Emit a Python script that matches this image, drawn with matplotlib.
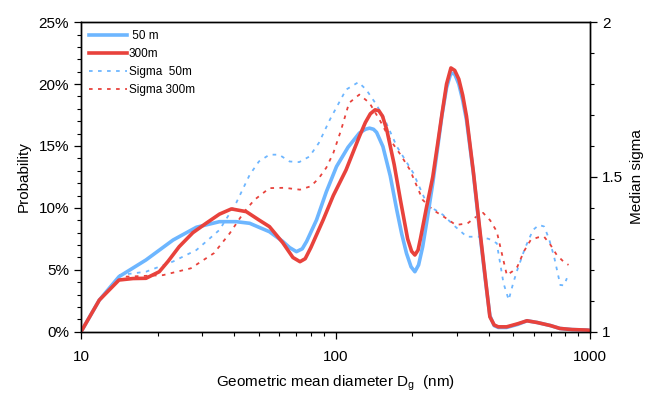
import matplotlib
matplotlib.use("Agg")
import matplotlib.pyplot as plt
from matplotlib.ticker import FixedLocator, FuncFormatter, MultipleLocator, NullFormatter
import numpy as np

plt.rcParams['font.family'] = ['Liberation Sans', 'DejaVu Sans']

# probability, 50 m
d_50 = [10, 11.8, 14.1, 18, 23, 28.4, 35, 40.7, 46, 50, 55, 62, 66, 70.2, 74, 77, 84.2, 92, 100.9,
        112, 124, 131, 136, 141, 145, 153.5, 164, 174, 182, 190, 198, 205, 212, 220, 230, 241, 252, 262,
        273, 284, 294, 305, 316, 327, 348, 369, 390, 404, 420, 436, 470, 520, 565, 620, 700, 761, 850, 970, 1000]
p_50 = [0, 2.56, 4.45, 5.8, 7.41, 8.44, 8.89, 8.89, 8.76, 8.44, 8.08, 7.3, 6.8, 6.47, 6.7, 7.3, 9.03, 11.3, 13.34,
        14.9, 16.04, 16.35, 16.44, 16.35, 16.1, 14.96, 12.6, 9.84, 7.9, 6.34, 5.25, 4.85, 5.4, 6.87, 9.3, 12.0, 14.9, 17.5,
        19.7, 20.9, 20.8, 20.0, 18.7, 17.1, 12.8, 8.0, 3.8, 1.3, 0.5, 0.35, 0.35, 0.6, 0.89, 0.75, 0.5, 0.27, 0.18, 0.14, 0.12]

# probability, 300 m
d_300 = [10, 11.8, 14.1, 16, 18, 20.3, 22, 24.3, 27.5, 31, 35, 39, 44.6, 50, 55, 62, 68, 72.5,
         76, 80, 89.4, 98, 110, 124, 131, 137, 143, 148, 153, 159, 170, 180, 192, 199, 205, 211, 216, 228, 241, 252, 262,
         273, 284, 294, 305, 316, 327, 348, 369, 390, 404, 420, 436, 470, 520, 565, 620, 700, 761, 850, 970, 1000]
p_300 = [0, 2.56, 4.18, 4.3, 4.32, 4.85, 5.7, 6.87, 8.0, 8.76, 9.5, 9.92, 9.7, 9.03, 8.49, 7.2, 6.0, 5.66,
         5.9, 6.8, 9.03, 11.0, 13.07, 15.76, 16.9, 17.6, 17.92, 17.85, 17.4, 16.3, 13.5, 10.6, 7.5, 6.5, 6.2, 6.6, 7.6, 10.1, 12.5, 15.2, 17.6,
         20.0, 21.3, 21.1, 20.4, 19.1, 17.4, 12.9, 8.2, 3.9, 1.21, 0.55, 0.4, 0.4, 0.65, 0.89, 0.75, 0.5, 0.27, 0.18, 0.14, 0.12]

# median sigma, 50 m
ds_50 = [14.1, 18, 23, 28.4, 35, 40.7, 46, 50, 55, 60, 66, 72, 79, 86, 95, 110, 123, 132, 143,
         154, 174, 202, 225, 245, 264, 295, 328, 369, 400, 430, 457, 479, 500, 518, 555, 597,
         630, 660, 690, 722, 764, 790, 811]
s_50 = [1.183, 1.194, 1.227, 1.264, 1.329, 1.416, 1.507, 1.55, 1.572, 1.572, 1.55, 1.548, 1.566, 1.61, 1.685, 1.782, 1.806, 1.782, 1.74,
        1.696, 1.599, 1.513, 1.426, 1.395, 1.378, 1.34, 1.307, 1.307, 1.3, 1.286, 1.157, 1.103, 1.16, 1.20, 1.27, 1.329,
        1.345, 1.34, 1.30, 1.243, 1.151, 1.15, 1.173]

# median sigma, 300 m
ds_300 = [15, 21, 27, 33.3, 38.4, 44, 48, 55, 63, 72.5, 80, 86, 92, 98, 105, 113, 124, 136, 150,
          164, 180, 196, 220, 241, 268, 297, 330, 355, 380, 405, 430, 471, 495, 518, 550, 585,
          625, 660, 700, 740, 790, 823]
s_300 = [1.178, 1.183, 1.205, 1.254, 1.318, 1.39, 1.426, 1.464, 1.465, 1.459, 1.47, 1.496, 1.53, 1.577, 1.65, 1.739, 1.766, 1.739, 1.68,
         1.62, 1.572, 1.523, 1.426, 1.394, 1.37, 1.345, 1.35, 1.37, 1.384, 1.36, 1.324, 1.183, 1.195, 1.21, 1.26, 1.297,
         1.305, 1.307, 1.28, 1.248, 1.225, 1.216]

blue = '#6DB6FF'
red = '#E8423C'

fig = plt.figure(figsize=(6.46, 3.95), dpi=100)
ax = fig.add_axes([0.1254, 0.160, 0.788, 0.784])
ax2 = ax.twinx()

l1, = ax.plot(d_50, p_50, color=blue, lw=2.6, label=' 50 m', solid_joinstyle='round')
l2, = ax.plot(d_300, p_300, color=red, lw=2.6, label='300m', solid_joinstyle='round')
l3, = ax2.plot(ds_50, s_50, color=blue, lw=1.3, ls=(0, (2, 3)), label='Sigma  50m')
l4, = ax2.plot(ds_300, s_300, color=red, lw=1.3, ls=(0, (2, 3)), label='Sigma 300m')

ax.set_xscale('log')
ax.set_xlim(10, 1000)
ax.set_ylim(0, 25)
ax2.set_ylim(1, 2)
ax.set_zorder(ax2.get_zorder() + 1)
ax.patch.set_visible(False)

ax.xaxis.set_major_locator(FixedLocator([10, 100, 1000]))
ax.xaxis.set_major_formatter(FuncFormatter(lambda v, p: '%d' % v))
ax.xaxis.set_minor_formatter(NullFormatter())
ax.yaxis.set_major_locator(MultipleLocator(5))
ax.yaxis.set_minor_locator(MultipleLocator(1))
ax.yaxis.set_major_formatter(FuncFormatter(lambda v, p: '%d%%' % v))
ax2.yaxis.set_major_locator(FixedLocator([1, 1.5, 2]))
ax2.yaxis.set_minor_locator(MultipleLocator(0.1))
ax2.yaxis.set_major_formatter(FuncFormatter(lambda v, p: '%g' % v))

for a in (ax, ax2):
    a.tick_params(which='major', direction='out', length=5, width=0.9, labelsize=11)
    a.tick_params(which='minor', direction='out', length=3, width=0.8)
    for s in a.spines.values():
        s.set_linewidth(1.0)
ax.tick_params(axis='x', pad=8)

ax.set_xlabel('Geometric mean diameter D$_\\mathregular{g}$  (nm)', fontsize=11, labelpad=7)
ax.set_ylabel('Probability', fontsize=11, labelpad=6)
ax2.set_ylabel('Median sigma', fontsize=11, labelpad=5)

ax.legend(handles=[l1, l2, l3, l4], loc='upper left', frameon=False, fontsize=8.5,
          handlelength=3.2, handletextpad=0.15, labelspacing=0.5,
          borderaxespad=0.3, bbox_to_anchor=(0.0, 1.0))

fig.savefig('out.png', dpi=100)
